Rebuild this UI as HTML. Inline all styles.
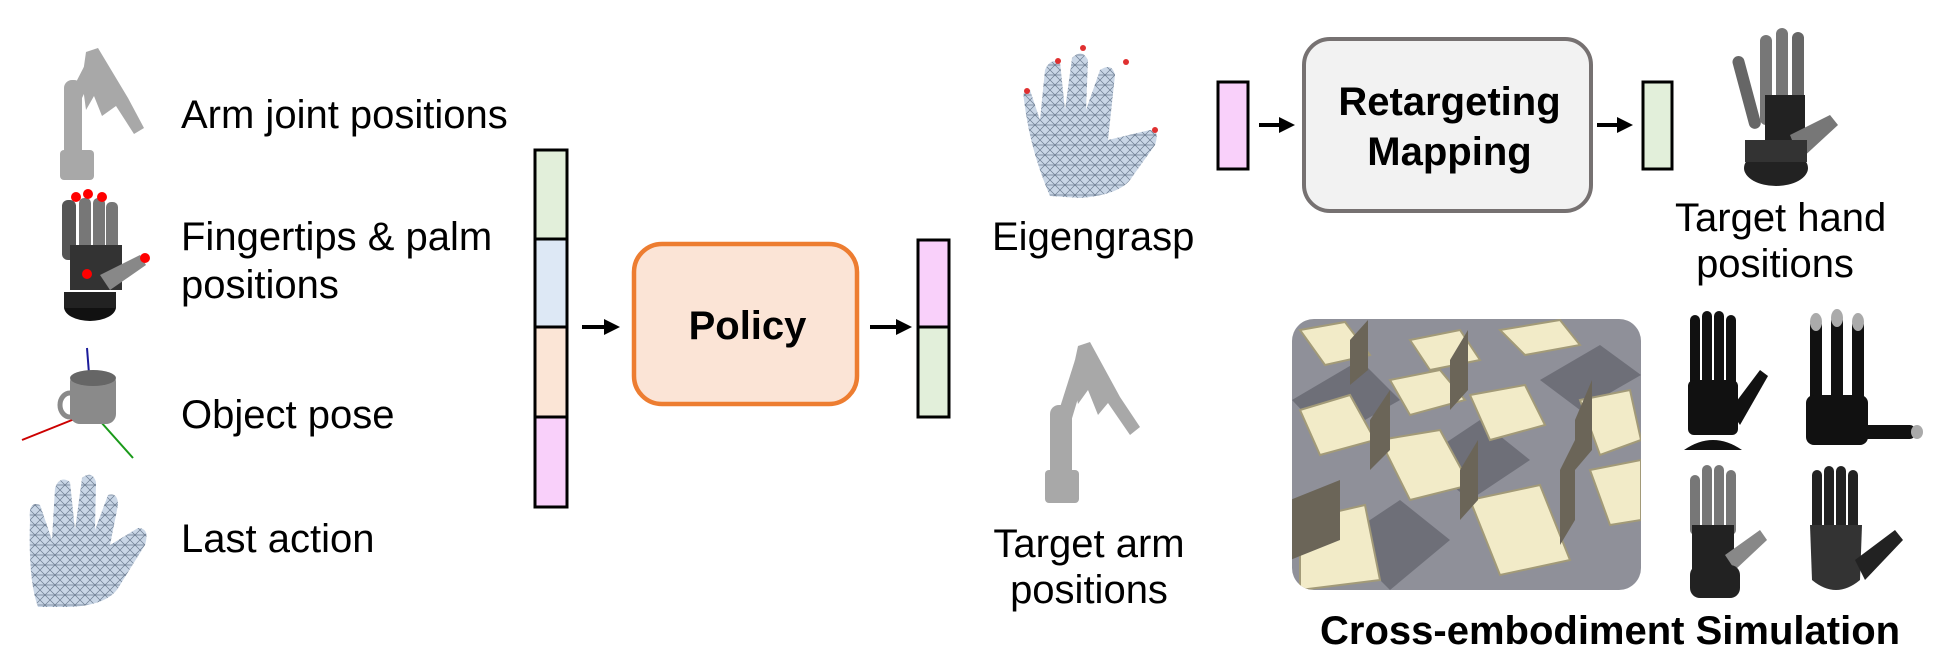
<!DOCTYPE html>
<html><head><meta charset="utf-8"><style>
body{margin:0;width:1952px;height:663px;background:#fff;position:relative;overflow:hidden;font-family:"Liberation Sans",Arial,sans-serif;color:#000}
.t{position:absolute;font-size:40px;line-height:1;white-space:nowrap}
.b{font-weight:bold}
svg{position:absolute;left:0;top:0}
</style></head><body>
<svg width="1952" height="663" viewBox="0 0 1952 663">
<defs>
<marker id="ah" markerWidth="4" markerHeight="4" refX="2.5" refY="2" orient="auto"><path d="M0,0 L4,2 L0,4 z" fill="#000"/></marker>
<pattern id="mesh" width="10" height="10" patternUnits="userSpaceOnUse"><rect width="10" height="10" fill="#c9d6e6"/><path d="M0,0 L10,10 M10,0 L0,10 M0,5 H10" stroke="#6c7c90" stroke-width="0.7"/></pattern>
<clipPath id="simc"><rect x="1292" y="319" width="349" height="271" rx="22"/></clipPath>
</defs>
<g fill="#a8a8a8">
<path d="M86,52 l12,-4 l30,50 l16,30 l-10,6 l-18,-28 l-14,10 l-8,-20 l-8,14 l-4,-30z"/>
<rect x="64" y="80" width="18" height="90" rx="8"/>
<rect x="60" y="150" width="34" height="30" rx="4"/>
<path d="M72,90 L90,55 L100,60 L82,98z"/>
</g>
<g>
<rect x="62" y="200" width="14" height="60" rx="6" fill="#555"/>
<rect x="79" y="198" width="12" height="64" rx="5" fill="#777"/>
<rect x="93" y="198" width="12" height="64" rx="5" fill="#777"/>
<rect x="106" y="202" width="12" height="60" rx="5" fill="#777"/>
<rect x="70" y="245" width="52" height="45" fill="#333"/>
<path d="M100,275 L140,255 L146,265 L110,290z" fill="#888"/>
<ellipse cx="90" cy="307" rx="26" ry="14" fill="#111"/>
<rect x="64" y="292" width="52" height="16" fill="#222"/>
<circle cx="76" cy="197" r="5" fill="#f00"/><circle cx="88" cy="194" r="5" fill="#f00"/><circle cx="102" cy="197" r="5" fill="#f00"/><circle cx="145" cy="258" r="5" fill="#f00"/><circle cx="87" cy="274" r="5" fill="#f00"/>
</g>
<g>
<line x1="87" y1="348" x2="92" y2="412" stroke="#1b1b9a" stroke-width="2"/>
<line x1="92" y1="412" x2="22" y2="440" stroke="#c00" stroke-width="2"/>
<line x1="92" y1="412" x2="133" y2="458" stroke="#1a9a1a" stroke-width="2"/>
<rect x="70" y="372" width="46" height="52" rx="10" fill="#8a8a8a"/>
<ellipse cx="93" cy="378" rx="23" ry="8" fill="#666"/>
<ellipse cx="70" cy="405" rx="10" ry="12" fill="none" stroke="#8a8a8a" stroke-width="5"/>
</g>
<path d="M30,520 Q28,500 40,505 L52,540 L55,488 Q60,475 70,482 L75,530 L82,478 Q92,470 96,482 L95,530 L108,495 Q118,492 118,505 L110,545 L138,528 Q150,528 145,545 L120,585 Q110,605 70,607 L38,607 Q28,580 30,520z" fill="url(#mesh)"/>
<rect x="535" y="150" width="32" height="89" fill="#e2efda" stroke="#000" stroke-width="3"/>
<rect x="535" y="239" width="32" height="88" fill="#dde8f5" stroke="#000" stroke-width="3"/>
<rect x="535" y="327" width="32" height="90" fill="#fbe5d6" stroke="#000" stroke-width="3"/>
<rect x="535" y="417" width="32" height="90" fill="#f9d0fa" stroke="#000" stroke-width="3"/>
<line x1="582" y1="327" x2="614" y2="327" stroke="#000" stroke-width="4" marker-end="url(#ah)"/>
<rect x="634" y="244" width="223" height="160" rx="28" fill="#fbe4d6" stroke="#ed7d31" stroke-width="4.5"/>
<line x1="870" y1="327" x2="906" y2="327" stroke="#000" stroke-width="4" marker-end="url(#ah)"/>
<rect x="918" y="240" width="31" height="87" fill="#f9d0fa" stroke="#000" stroke-width="3"/>
<rect x="918" y="327" width="31" height="90" fill="#e2efda" stroke="#000" stroke-width="3"/>
<path d="M1024,100 Q1022,88 1030,90 L1040,120 L1045,70 Q1050,58 1060,62 L1065,110 L1072,58 Q1082,48 1088,60 L1086,110 L1100,70 Q1112,62 1115,75 L1108,140 L1150,130 Q1160,130 1155,145 L1130,180 Q1118,195 1080,198 L1050,196 Q1030,150 1024,100z" fill="url(#mesh)"/>
<g fill="#e03030"><circle cx="1027" cy="91" r="3"/><circle cx="1058" cy="61" r="3"/><circle cx="1083" cy="48" r="3"/><circle cx="1126" cy="62" r="3"/><circle cx="1155" cy="130" r="3"/></g>
<rect x="1218" y="82" width="30" height="87" fill="#f9d0fa" stroke="#000" stroke-width="3"/>
<line x1="1259" y1="125" x2="1289" y2="125" stroke="#000" stroke-width="4" marker-end="url(#ah)"/>
<rect x="1304" y="39" width="287" height="172" rx="26" fill="#f2f2f2" stroke="#767171" stroke-width="4"/>
<line x1="1597" y1="125" x2="1627" y2="125" stroke="#000" stroke-width="4" marker-end="url(#ah)"/>
<rect x="1643" y="82" width="29" height="87" fill="#e2efda" stroke="#000" stroke-width="3"/>
<g>
<rect x="1740" y="55" width="12" height="75" rx="6" fill="#666" transform="rotate(-15 1746 90)"/>
<rect x="1760" y="35" width="12" height="90" rx="6" fill="#777"/>
<rect x="1776" y="28" width="12" height="95" rx="6" fill="#777"/>
<rect x="1792" y="32" width="12" height="90" rx="6" fill="#666"/>
<rect x="1765" y="95" width="40" height="55" fill="#222"/>
<path d="M1790,135 L1830,115 L1838,125 L1800,160z" fill="#777"/>
<ellipse cx="1776" cy="168" rx="32" ry="18" fill="#222"/>
<rect x="1745" y="140" width="62" height="22" fill="#333"/>
</g>
<g fill="#a8a8a8">
<path d="M1078,346 l12,-4 l30,55 l20,30 l-10,8 l-22,-32 l-10,12 l-10,-25 l-10,14 l-6,-30z"/>
<rect x="1050" y="405" width="22" height="95" rx="9"/>
<rect x="1045" y="470" width="34" height="33" rx="4"/>
<path d="M1056,420 L1075,360 L1088,365 L1070,425z"/>
</g>
<g clip-path="url(#simc)">
<rect x="1292" y="319" width="349" height="271" fill="#8f9099"/>
<g fill="#6e6f78">
<path d="M1292,400 L1360,360 L1400,400 L1330,440z"/><path d="M1420,460 L1480,420 L1530,460 L1470,500z"/><path d="M1540,380 L1600,345 L1641,375 L1580,410z"/><path d="M1340,540 L1400,500 L1450,540 L1390,590z"/>
</g>
<g fill="#f2ebc8" stroke="#a29a78" stroke-width="2">
<path d="M1300,330 L1345,322 L1370,355 L1325,365z"/>
<path d="M1410,340 L1460,330 L1480,360 L1430,370z"/>
<path d="M1500,330 L1560,320 L1580,345 L1525,355z"/>
<path d="M1300,410 L1350,395 L1375,440 L1320,455z"/>
<path d="M1390,380 L1440,370 L1465,400 L1410,415z"/>
<path d="M1470,395 L1525,385 L1545,425 L1490,440z"/>
<path d="M1580,400 L1630,390 L1641,440 L1600,455z"/>
<path d="M1380,440 L1440,430 L1470,485 L1410,500z"/>
<path d="M1300,520 L1365,505 L1380,580 L1300,590z"/>
<path d="M1470,500 L1540,485 L1570,560 L1500,575z"/>
<path d="M1590,470 L1641,460 L1641,520 L1610,525z"/>
</g>
<g fill="#6b6558"><path d="M1350,340 L1368,320 L1368,370 L1350,385z"/><path d="M1450,360 L1468,330 L1468,390 L1450,410z"/><path d="M1370,420 L1390,390 L1390,450 L1370,470z"/><path d="M1460,470 L1478,440 L1478,500 L1460,520z"/><path d="M1575,420 L1592,380 L1592,450 L1575,470z"/><path d="M1290,500 L1340,480 L1340,540 L1290,560z"/><path d="M1560,470 L1575,440 L1575,520 L1560,545z"/></g>
</g>
<g fill="#111">
<rect x="1690" y="315" width="10" height="80" rx="5"/><rect x="1702" y="311" width="10" height="85" rx="5"/><rect x="1714" y="311" width="10" height="85" rx="5"/><rect x="1726" y="315" width="10" height="80" rx="5"/>
<rect x="1688" y="380" width="50" height="55" rx="6"/><path d="M1730,410 L1760,370 L1768,376 L1740,425z"/>
<path d="M1684,450 Q1713,430 1742,450z"/>
</g>
<g fill="#111">
<rect x="1810" y="322" width="12" height="80" rx="3"/><rect x="1831" y="318" width="12" height="84" rx="3"/><rect x="1852" y="322" width="12" height="80" rx="3"/>
<rect x="1806" y="395" width="62" height="50" rx="8"/><rect x="1860" y="425" width="55" height="14" rx="5"/>
</g>
<g fill="#aaa"><ellipse cx="1816" cy="322" rx="6" ry="9"/><ellipse cx="1837" cy="318" rx="6" ry="9"/><ellipse cx="1858" cy="322" rx="6" ry="9"/><ellipse cx="1917" cy="432" rx="6" ry="7"/></g>
<g>
<rect x="1690" y="475" width="10" height="60" rx="5" fill="#777"/><rect x="1702" y="465" width="10" height="70" rx="5" fill="#777"/><rect x="1714" y="465" width="10" height="70" rx="5" fill="#777"/><rect x="1726" y="470" width="10" height="65" rx="5" fill="#777"/>
<rect x="1692" y="525" width="42" height="45" fill="#222"/><path d="M1725,555 L1760,530 L1767,540 L1735,570z" fill="#888"/>
<rect x="1690" y="565" width="50" height="33" rx="10" fill="#222"/>
</g>
<g fill="#222">
<rect x="1812" y="470" width="10" height="60" rx="5"/><rect x="1824" y="466" width="10" height="64" rx="5"/><rect x="1836" y="466" width="10" height="64" rx="5"/><rect x="1848" y="470" width="10" height="60" rx="5"/>
<path d="M1810,525 L1862,525 L1860,580 Q1836,600 1812,580z" fill="#333"/>
<path d="M1855,560 L1895,530 L1903,540 L1865,580z"/>
</g>
</svg>
<div class="t" style="left:181px;top:95px">Arm joint positions</div>
<div class="t" style="left:181px;top:217px">Fingertips &amp; palm</div>
<div class="t" style="left:181px;top:265px">positions</div>
<div class="t" style="left:181px;top:395px">Object pose</div>
<div class="t" style="left:181px;top:519px">Last action</div>
<div class="t b" style="left:634px;width:227px;text-align:center;top:306px;font-size:40px">Policy</div>
<div class="t" style="left:992px;width:200px;text-align:center;top:217px">Eigengrasp</div>
<div class="t b" style="left:1304px;width:291px;text-align:center;top:82px">Retargeting</div>
<div class="t b" style="left:1304px;width:291px;text-align:center;top:132px">Mapping</div>
<div class="t" style="left:1675px;width:200px;text-align:center;top:198px">Target hand</div>
<div class="t" style="left:1675px;width:200px;text-align:center;top:244px">positions</div>
<div class="t" style="left:989px;width:200px;text-align:center;top:524px">Target arm</div>
<div class="t" style="left:989px;width:200px;text-align:center;top:570px">positions</div>
<div class="t b" style="left:1320px;top:611px">Cross-embodiment Simulation</div>
</body></html>
